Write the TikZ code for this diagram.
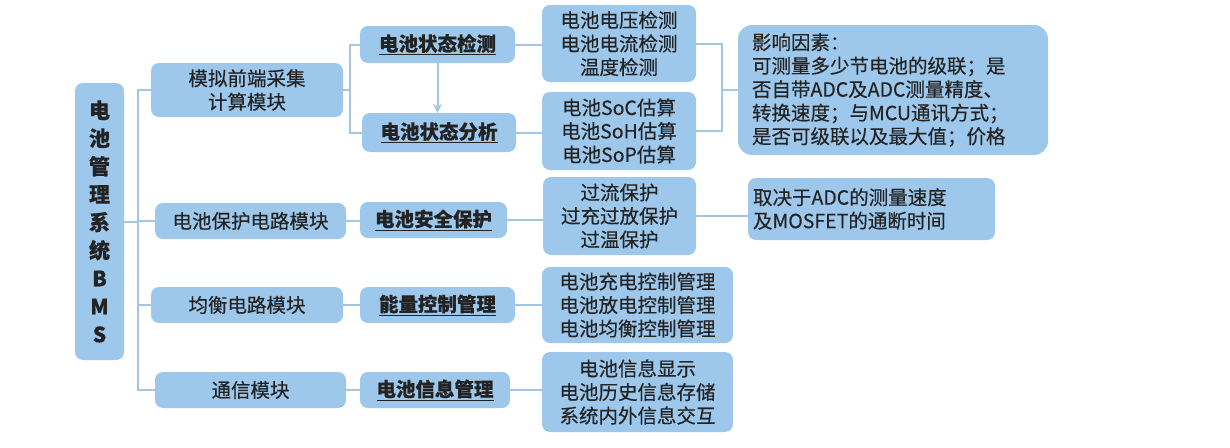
\documentclass[tikz,border=0pt]{standalone}
\usepackage{fontspec}
\setmainfont{Noto Sans CJK SC}[FakeBold=0.35]
\usetikzlibrary{arrows.meta}
\definecolor{boxfill}{RGB}{157,200,235}
\definecolor{linec}{RGB}{165,198,226}
\definecolor{txt}{RGB}{35,35,35}
\begin{document}
\begin{tikzpicture}[x=1pt,y=-1pt,
  box/.style={rectangle, rounded corners=8pt, fill=boxfill, draw=none, text=txt,
    align=center, inner sep=0pt, font=\fontsize{19.5}{23.5}\selectfont},
  titlebox/.style={box, font=\fontsize{19.5}{23.5}\selectfont\bfseries},
  conn/.style={draw=linec, line width=2pt},
  arr/.style={conn, -{Stealth[length=9pt,width=9pt]}}]
\useasboundingbox (0,0) rectangle (1230,447);
\fill[white] (0,0) rectangle (1230,447);
% root
\node[box, minimum width=49, minimum height=277, font=\fontsize{21}{28}\selectfont\bfseries]
  (bms) at (99.5,221.5) {电\\池\\管\\理\\系\\统\\B\\M\\S};
% level 1
\node[box, minimum width=192, minimum height=54] (l1a) at (247,90) {模拟前端采集\\计算模块};
\node[box, minimum width=191, minimum height=36] (l1b) at (250.5,221) {电池保护电路模块};
\node[box, minimum width=192, minimum height=36] (l1c) at (247,305) {均衡电路模块};
\node[box, minimum width=191, minimum height=36] (l1d) at (250.5,390) {通信模块};
% level 2
\node[titlebox, minimum width=155, minimum height=37] (l2a) at (437.5,44.5) {\underline{电池状态检测}};
\node[titlebox, minimum width=154, minimum height=39] (l2b) at (439,132.5) {\underline{电池状态分析}};
\node[titlebox, minimum width=147, minimum height=36] (l2c) at (433.5,220) {\underline{电池安全保护}};
\node[titlebox, minimum width=155, minimum height=36] (l2d) at (437.5,305) {\underline{能量控制管理}};
\node[titlebox, minimum width=150, minimum height=36] (l2e) at (435,390) {\underline{电池信息管理}};
% level 3
\node[box, minimum width=154, minimum height=77] (l3a) at (619,43.5) {电池电压检测\\电池电流检测\\温度检测};
\node[box, minimum width=154, minimum height=78] (l3b) at (619,131) {电池SoC估算\\电池SoH估算\\电池SoP估算};
\node[box, minimum width=153, minimum height=78] (l3c) at (619.5,216) {过流保护\\过充过放保护\\过温保护};
\node[box, minimum width=191, minimum height=76] (l3d) at (637.5,305) {电池充电控制管理\\电池放电控制管理\\电池均衡控制管理};
\node[box, minimum width=191, minimum height=80] (l3e) at (637.5,392) {电池信息显示\\电池历史信息存储\\系统内外信息交互};
% level 4
\node[box, align=left, inner xsep=14pt, text width=282, minimum height=130, rounded corners=14pt] (l4a) at (893,90)
  {影响因素：\\可测量多少节电池的级联；是\\否自带ADC及ADC测量精度、\\转换速度；与MCU通讯方式；\\是否可级联以及最大值；价格};
\node[box, align=left, inner xsep=5pt, text width=237, minimum height=62] (l4b) at (871.5,209)
  {取决于ADC的测量速度\\及MOSFET的通断时间};
% connectors
\coordinate (t) at (138,90);
\coordinate (s) at (350,90);
\coordinate (j) at (722,90);
\draw[conn] (l1a.west) -- (l1a.west -| t) |- (l1d.west);
\draw[conn] (l1b.west) -- (l1b.west -| t);
\draw[conn] (l1c.west) -- (l1c.west -| t);
\draw[conn] (bms.east) -- (bms.east -| t);
\draw[conn] (l1a.east) -- (s);
\draw[conn] (l2a.west) -| (s) |- (l2b.west);
\draw[arr] (l2a.south) -- (l2a.south |- l2b.north);
\draw[conn] (l1b.east) -- (l1b.east -| l2c.west);
\draw[conn] (l1c.east) -- (l1c.east -| l2d.west);
\draw[conn] (l1d.east) -- (l1d.east -| l2e.west);
\draw[conn] (l2a.east) -- (l2a.east -| l3a.west);
\draw[conn] (l2b.east) -- (l2b.east -| l3b.west);
\draw[conn] (l2c.east) -- (l2c.east -| l3c.west);
\draw[conn] (l2d.east) -- (l2d.east -| l3d.west);
\draw[conn] (l2e.east) -- (l2e.east -| l3e.west);
\draw[conn] (l3a.east) -| (j) |- (l3b.east);
\draw[conn] (j) -- (l4a.west);
\draw[conn] (l3c.east) -- (l3c.east -| l4b.west);
\end{tikzpicture}
\end{document}
